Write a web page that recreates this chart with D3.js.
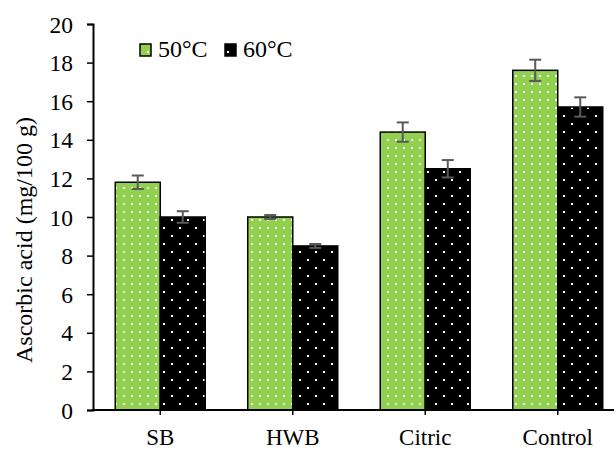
<!DOCTYPE html>
<html>
<head>
<meta charset="utf-8">
<script src="https://cdn.jsdelivr.net/npm/d3@7"></script>
<style>
  body { margin: 0; background: #fff; }
  svg text { font-family: "Liberation Serif", "Times New Roman", serif; fill: #000; }
</style>
</head>
<body>
<div id="chart"></div>
<script>
// Chart data
const categories = ["SB", "HWB", "Citric", "Control"];
const seriesNames = ["50°C", "60°C"];
const values50 = [11.8, 10.0, 14.4, 17.6];
const values60 = [10.0, 8.5, 12.5, 15.7];
const err50 = [0.35, 0.1, 0.5, 0.55];
const err60 = [0.3, 0.1, 0.45, 0.5];
const yTicks = [0, 2, 4, 6, 8, 10, 12, 14, 16, 18, 20];

let width = 616;
let height = 450;

let svg = d3.select('#chart')
    .append('svg')
    .attr('width', width)
    .attr('height', height);

// Fill patterns: green with white dots, black with sparse white dots
let defs = svg.append('defs');
let pGreen = defs.append('pattern')
    .attr('id', 'dotsGreen')
    .attr('patternUnits', 'userSpaceOnUse')
    .attr('width', 8).attr('height', 8);
pGreen.append('rect').attr('width', 8).attr('height', 8).attr('fill', '#92d050');
pGreen.append('rect').attr('x', 3).attr('y', 3).attr('width', 2).attr('height', 2).attr('fill', '#fff');

let pBlack = defs.append('pattern')
    .attr('id', 'dotsBlack')
    .attr('patternUnits', 'userSpaceOnUse')
    .attr('width', 16).attr('height', 16);
pBlack.append('rect').attr('width', 16).attr('height', 16).attr('fill', '#000');
pBlack.append('rect').attr('x', 3).attr('y', 3).attr('width', 2).attr('height', 2).attr('fill', '#fff');
pBlack.append('rect').attr('x', 11).attr('y', 11).attr('width', 2).attr('height', 2).attr('fill', '#fff');

let x = d3.scaleBand()
    .domain(categories)
    .range([94, 624])
    .paddingInner(0)
    .paddingOuter(0);

let y = d3.scaleLinear()
    .domain([0, 20])
    .range([410, 24]);

const barW = 45;
const series = [
    {name: seriesNames[0], values: values50, errs: err50, fill: 'url(#dotsGreen)', off: -barW},
    {name: seriesNames[1], values: values60, errs: err60, fill: 'url(#dotsBlack)', off: 0}
];

// Bars
series.forEach(s => {
    svg.append('g').selectAll('rect')
        .data(categories)
        .enter()
        .append('rect')
        .attr('x', (d, i) => x(d) + x.bandwidth() / 2 + s.off)
        .attr('y', (d, i) => y(s.values[i]))
        .attr('width', barW)
        .attr('height', (d, i) => y(0) - y(s.values[i]))
        .attr('fill', s.fill)
        .attr('stroke', '#000')
        .attr('stroke-width', 1.5);
});

// Error bars
series.forEach(s => {
    let g = svg.append('g').attr('stroke', '#595959').attr('stroke-width', 2);
    categories.forEach((c, i) => {
        let cx = x(c) + x.bandwidth() / 2 + s.off + barW / 2;
        let hi = y(s.values[i] + s.errs[i]);
        let lo = y(s.values[i] - s.errs[i]);
        g.append('line').attr('x1', cx).attr('x2', cx).attr('y1', hi).attr('y2', lo);
        g.append('line').attr('x1', cx - 6).attr('x2', cx + 6).attr('y1', hi).attr('y2', hi);
        g.append('line').attr('x1', cx - 6).attr('x2', cx + 6).attr('y1', lo).attr('y2', lo);
    });
});

// Y axis
let yAxis = svg.append('g')
    .attr('transform', 'translate(93,0)')
    .call(d3.axisLeft(y).tickValues(yTicks).tickSize(6).tickPadding(14).tickFormat(d3.format('d')));
yAxis.select('.domain').attr('stroke-width', 2);
yAxis.selectAll('.tick line').attr('stroke-width', 1.5);
yAxis.selectAll('text').style('font-size', '23.5px').attr('dy', '0.34em');

// X axis
let xAxis = svg.append('g')
    .attr('transform', 'translate(0,410)')
    .call(d3.axisBottom(x).tickSize(5).tickSizeOuter(0));
xAxis.select('.domain').attr('d', 'M92,0H614').attr('stroke-width', 2);
xAxis.selectAll('.tick line').attr('stroke-width', 1.5);
xAxis.selectAll('text').style('font-size', '23px').attr('y', 35).attr('dy', 0);

// Y axis title
svg.append('text')
    .attr('transform', 'translate(32,240) rotate(-90)')
    .attr('text-anchor', 'middle')
    .style('font-size', '24px')
    .text('Ascorbic acid (mg/100 g)');

// Legend
let legend = svg.append('g');
series.forEach((s, i) => {
    let lx = 140 + i * 85;
    legend.append('rect')
        .attr('x', lx).attr('y', 44)
        .attr('width', 11).attr('height', 12)
        .attr('fill', s.fill)
        .attr('stroke', '#000').attr('stroke-width', 1.5);
    legend.append('text')
        .attr('x', lx + 18).attr('y', 57)
        .style('font-size', '24px')
        .text(s.name);
});
</script>
</body>
</html>
